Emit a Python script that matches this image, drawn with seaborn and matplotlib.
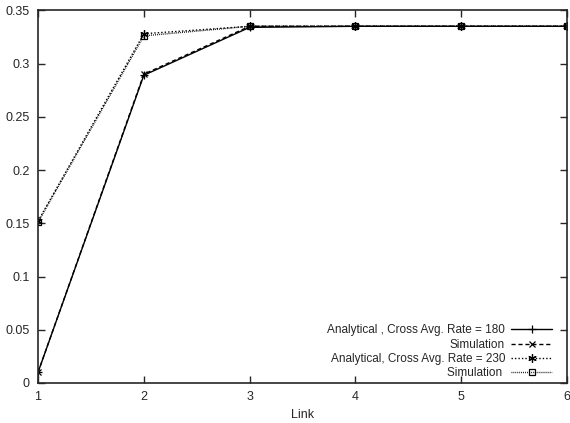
import matplotlib
matplotlib.use("Agg")
import matplotlib.pyplot as plt
import seaborn as sns
import pandas as pd

sns.set_style("ticks")
plt.rcParams['font.family'] = ['Liberation Sans', 'DejaVu Sans']

links = [1, 2, 3, 4, 5, 6]
analytical_180 = [0.010, 0.289, 0.334, 0.335, 0.335, 0.335]
simulation_180 = [0.010, 0.290, 0.335, 0.335, 0.335, 0.335]
analytical_230 = [0.152, 0.328, 0.335, 0.335, 0.335, 0.335]
simulation_230 = [0.151, 0.326, 0.335, 0.335, 0.335, 0.335]

labels = ["Analytical , Cross Avg. Rate = 180", "Simulation",
          "Analytical, Cross Avg. Rate = 230", "Simulation "]
series = [analytical_180, simulation_180, analytical_230, simulation_230]
styles = [
    dict(linestyle='-', marker='+', markersize=6, mfc='none'),
    dict(linestyle=(0, (3, 2)), marker='x', markersize=4, mfc='none'),
    dict(linestyle=(0, (1, 1.5)), marker=(6, 2, 0), markersize=6, mfc='none'),
    dict(linestyle=(0, (0.6, 0.8)), marker='s', markersize=4, mfc='none'),
]

fig = plt.figure(figsize=(5.7, 4.23), dpi=100)
ax = fig.add_axes([0.0667, 0.0946, 0.928, 0.881])

for lab, vals, st in zip(labels, series, styles):
    df = pd.DataFrame({"Link": links, "value": vals})
    sns.lineplot(data=df, x="Link", y="value", ax=ax, color='black',
                 linewidth=1.0, label=lab, mec='black', mew=0.9, **st)

ax.set_xlim(1, 6)
ax.set_ylim(0, 0.35)
ax.set_xticks(links)
ax.set_yticks([0, 0.05, 0.1, 0.15, 0.2, 0.25, 0.3, 0.35])
ax.set_yticklabels(["0", "0.05", "0.1", "0.15", "0.2", "0.25", "0.3", "0.35"])
ax.set_xlabel("Link", fontsize=9, labelpad=4)
ax.set_ylabel("")
ax.tick_params(direction='in', top=True, right=True, labelsize=9, length=5, width=1)
ax.tick_params(axis='x', pad=6)
ax.tick_params(axis='y', pad=6)
for s in ax.spines.values():
    s.set_linewidth(1.2)

leg = ax.legend(loc='lower right', bbox_to_anchor=(0.979, 0.0), frameon=False,
                markerfirst=False, fontsize=8.5, handlelength=3.5,
                labelspacing=0.2, borderaxespad=0.1, borderpad=0.2,
                handletextpad=0.5)
for t in leg.get_texts():
    t.set_ha('right')
leg._legend_box.align = "right"

fig.savefig("out.png", dpi=100)
